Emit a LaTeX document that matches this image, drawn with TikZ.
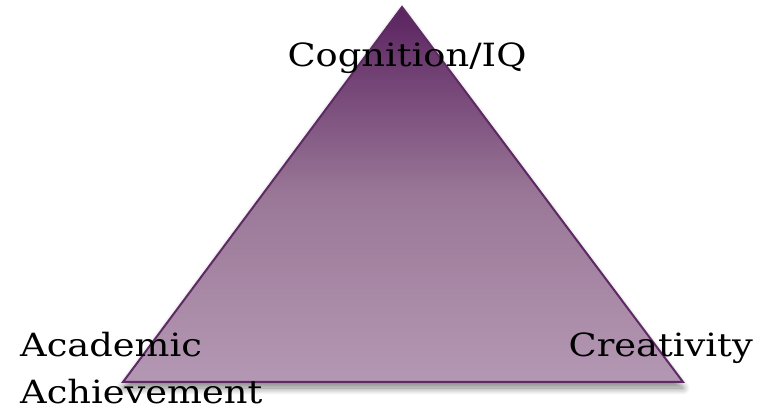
\documentclass[tikz,border=0pt]{standalone}
\usepackage{fontspec}
\setmainfont[FakeStretch=1.15]{DejaVu Serif}
\usetikzlibrary{shadows.blur}
\definecolor{edgepurple}{HTML}{5E2A64}
\definecolor{toppurple}{HTML}{5A2360}
\definecolor{midpurple}{HTML}{9A7797}
\definecolor{botpurple}{HTML}{B498B3}
\tikzset{
  label text/.style={font=\fontsize{32}{38}\selectfont, text=black, inner sep=0pt},
  tri/.style={draw=edgepurple, line width=2pt, line join=miter,
    top color=toppurple, bottom color=botpurple, middle color=midpurple,
    blur shadow={shadow xshift=0pt, shadow yshift=-6pt, shadow blur steps=14, shadow opacity=50, shadow blur radius=7pt}}
}
\begin{document}
\begin{tikzpicture}[x=1pt,y=-1pt]
\useasboundingbox (0,0) rectangle (758,411);
\coordinate (apex) at (402,7);
\coordinate (bl) at (123,382);
\coordinate (br) at (683,382);
\path[tri] (apex) -- (br) -- (bl) -- cycle;
\node[label text, anchor=base] (cog) at (407,67) {Cognition/IQ};
\node[label text, anchor=base west, align=left] (acad) at (20,357) {Academic};
\node[label text, anchor=base west, align=left] (ach) at (20,404) {Achievement};
\node[label text, anchor=base east] (crea) at (753,357) {Creativity};
\end{tikzpicture}
\end{document}
